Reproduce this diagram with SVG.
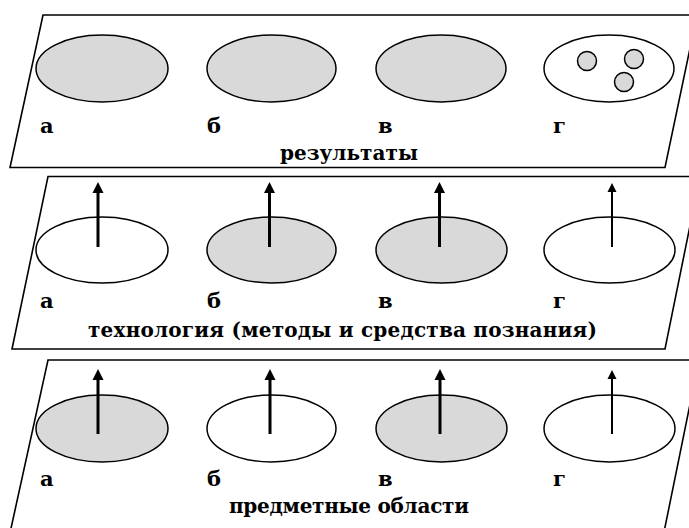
<svg xmlns="http://www.w3.org/2000/svg" width="689" height="528" viewBox="0 0 689 528">
<style>
.panel{fill:#fff;stroke:#000;stroke-width:1.6}
.g{fill:#d9d9d9;stroke:#000;stroke-width:1.5}
.w{fill:#fff;stroke:#000;stroke-width:1.5}
.lbl{font-family:"DejaVu Serif","Liberation Serif",serif;font-weight:bold;font-size:21px;fill:#000}
.ttl{font-family:"DejaVu Serif","Liberation Serif",serif;font-weight:bold;font-size:20px;fill:#000}
.ar{stroke:#000;stroke-width:3;fill:none;marker-end:url(#ah)}
.ar2{stroke:#000;stroke-width:2;fill:none;marker-end:url(#ah2)}
</style>
<defs>
<marker id="ah" markerUnits="userSpaceOnUse" markerWidth="12" markerHeight="12" viewBox="0 0 12 12" refX="2" refY="6" orient="auto">
<path d="M0,0.5 L11,6 L0,11.5 z" fill="#000"/>
</marker>
<marker id="ah2" markerUnits="userSpaceOnUse" markerWidth="10" markerHeight="10" viewBox="0 0 10 10" refX="2" refY="5" orient="auto">
<path d="M0,0.5 L9,5 L0,9.5 z" fill="#000"/>
</marker>
</defs>
<rect width="689" height="528" fill="#fff"/>

<g id="panel-results">
<polygon class="panel" points="43,15 697,15 665,167.5 10,167.5"/>
<ellipse class="g" cx="102" cy="68.5" rx="66" ry="33.5"/>
<ellipse class="g" cx="271.5" cy="68.5" rx="64.5" ry="33.5"/>
<ellipse class="g" cx="441" cy="68.5" rx="65" ry="33.5"/>
<ellipse class="w" cx="609" cy="68.5" rx="65" ry="33.5"/>
<circle class="g" cx="587" cy="61" r="9.5"/>
<circle class="g" cx="634" cy="59" r="9.5"/>
<circle class="g" cx="624" cy="82" r="9.5"/>
<text class="lbl" x="40" y="133">а</text>
<text class="lbl" x="207" y="133">б</text>
<text class="lbl" x="378" y="133">в</text>
<text class="lbl" x="553" y="133">г</text>
<text class="ttl" x="280" y="160" textLength="138" lengthAdjust="spacing">результаты</text>
</g>

<g id="panel-technology">
<polygon class="panel" points="48,176.5 700,176.5 665,349 12,349"/>
<ellipse class="w" cx="102" cy="250" rx="66" ry="33"/>
<ellipse class="g" cx="271.5" cy="250" rx="64.5" ry="33"/>
<ellipse class="g" cx="441.5" cy="250" rx="65.5" ry="33"/>
<ellipse class="w" cx="609.5" cy="250" rx="65.5" ry="33"/>
<text class="lbl" x="40" y="308">а</text>
<text class="lbl" x="207" y="308">б</text>
<text class="lbl" x="378" y="308">в</text>
<text class="lbl" x="553" y="308">г</text>
<text class="ttl" x="88" y="337" textLength="509" lengthAdjust="spacing">технология (методы и средства познания)</text>
</g>

<g id="panel-domains">
<polygon class="panel" points="48,360 699,360 662,542 8,542"/>
<ellipse class="g" cx="102" cy="428.5" rx="66" ry="33.5"/>
<ellipse class="w" cx="271.5" cy="428.5" rx="64.5" ry="33.5"/>
<ellipse class="g" cx="441.5" cy="428.5" rx="65.5" ry="33.5"/>
<ellipse class="w" cx="609.5" cy="428.5" rx="65.5" ry="33.5"/>
<text class="lbl" x="40" y="486">а</text>
<text class="lbl" x="207" y="486">б</text>
<text class="lbl" x="378" y="486">в</text>
<text class="lbl" x="553" y="486">г</text>
<text class="ttl" x="229" y="513" textLength="240" lengthAdjust="spacing">предметные области</text>
</g>

<g id="connectors">
<line class="ar" x1="98" y1="247" x2="98" y2="191"/>
<line class="ar" x1="269.5" y1="247" x2="269.5" y2="191"/>
<line class="ar" x1="439.5" y1="247" x2="439.5" y2="191"/>
<line class="ar2" x1="612" y1="247" x2="612" y2="190"/>
<line class="ar" x1="98" y1="434" x2="98" y2="378"/>
<line class="ar" x1="270" y1="434" x2="270" y2="378"/>
<line class="ar" x1="440" y1="434" x2="440" y2="378"/>
<line class="ar2" x1="612" y1="434" x2="612" y2="377"/>
</g>
</svg>
